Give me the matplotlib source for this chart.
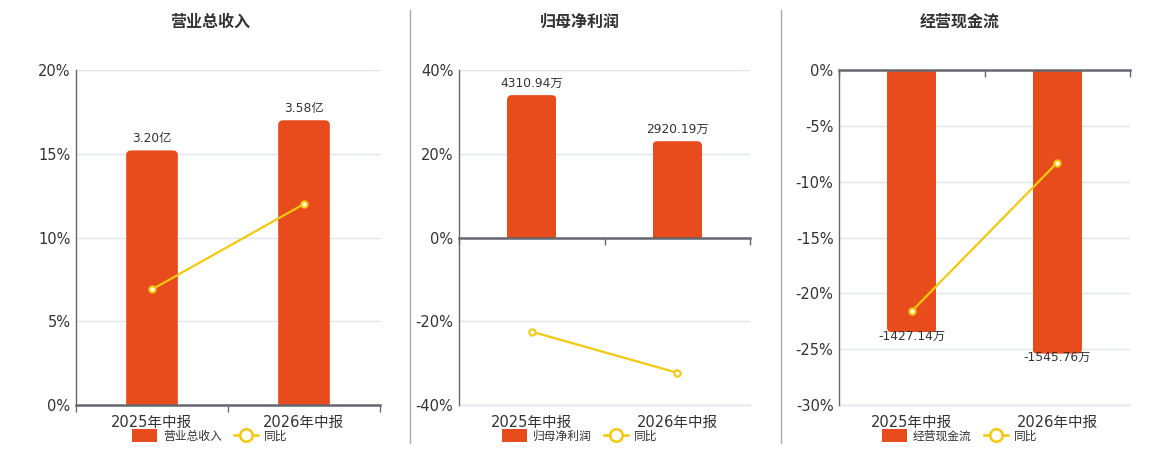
import numpy as np
import matplotlib
matplotlib.use('Agg')
import matplotlib.pyplot as plt
from matplotlib.patches import FancyBboxPatch, Patch
from matplotlib.lines import Line2D

plt.rcParams['font.family'] = ['DejaVu Sans', 'Noto Sans CJK SC']
plt.rcParams['axes.unicode_minus'] = False

# Data
periods = ['2025年中报', '2026年中报']

titles = ['营业总收入', '归母净利润', '经营现金流']

# bar heights on the percent axis (scaled values), with their labels
revenue_bar = [15.2, 17.0]
revenue_labels = ['3.20亿', '3.58亿']
revenue_yoy = [6.9, 12.0]

profit_bar = [34.0, 23.0]
profit_labels = ['4310.94万', '2920.19万']
profit_yoy = [-22.5, -32.3]

cash_bar = [-23.5, -25.4]
cash_labels = ['-1427.14万', '-1545.76万']
cash_yoy = [-21.6, -8.3]

ylims = [(0, 20), (-40, 40), (-30, 0)]
yticks = [[0, 5, 10, 15, 20], [-40, -20, 0, 20, 40], [-30, -25, -20, -15, -10, -5, 0]]

BAR = '#E84C1C'
LINE = '#F2C80F'
TXT = '#333333'
AXC = '#666670'
GRID = '#E0E4EE'

W, H = 1160, 450
fig = plt.figure(figsize=(W / 100, H / 100), dpi=100)

# axes boxes in pixels: left, right
boxes = [(76, 380), (459, 750), (839, 1130)]
top, bottom = 70, 405
centers = [210, 580, 960]

bars_all = [revenue_bar, profit_bar, cash_bar]
labels_all = [revenue_labels, profit_labels, cash_labels]
yoy_all = [revenue_yoy, profit_yoy, cash_yoy]

x = np.arange(len(periods))

for i in range(3):
    l, r = boxes[i]
    ax = fig.add_axes([l / W, (H - bottom) / H, (r - l) / W, (bottom - top) / H])
    ax.set_xlim(-0.5, 1.5)
    ax.set_ylim(*ylims[i])
    ax.set_yticks(yticks[i])
    ax.set_yticklabels([f'{v}%' for v in yticks[i]])
    ax.tick_params(axis='y', length=0, labelsize=10.5, labelcolor=TXT, pad=4)
    ax.set_xticks(x)
    ax.set_xticklabels(periods)
    ax.tick_params(axis='x', length=0, labelsize=10.5, labelcolor=TXT, pad=7)
    for s in ['top', 'right', 'bottom']:
        ax.spines[s].set_visible(False)
    ax.spines['left'].set_color(AXC)
    ax.spines['left'].set_linewidth(1)
    ax.grid(axis='y', color=GRID, lw=1)
    ax.set_axisbelow(True)
    ax.axhline(ylims[i][0], color=GRID, lw=1, clip_on=False, zorder=0.5)

    # zero line with category ticks
    sec = ax.secondary_xaxis(0, transform=ax.transData)
    sec.set_xticks([-0.5, 0.5, 1.5], labels=['', '', ''])
    sec.tick_params(direction='out', length=5, color=AXC, width=1)
    sec.spines['bottom'].set_visible(False)
    ax.axhline(0, color=AXC, lw=1.8, zorder=3, clip_on=False)

    # bars with rounded outer corners
    vals = bars_all[i]
    bars = ax.bar(x, vals, width=0.34, color=BAR, zorder=2)
    sx = 2.0 / (r - l)
    sy = (ylims[i][1] - ylims[i][0]) / (bottom - top)
    rad = 5
    for b in bars:
        bx, by, bw, bh = b.get_x(), b.get_y(), b.get_width(), b.get_height()
        ext = 3 * rad * sy
        if bh >= 0:
            y0, hh = by - ext, bh + ext
        else:
            y0, hh = by + bh, -bh + ext
        fb = FancyBboxPatch((bx, y0), bw, hh,
                            boxstyle=f'round,pad=0,rounding_size={rad * sx}',
                            mutation_aspect=sy / sx, fc=BAR, ec='none', zorder=2)
        ax.add_patch(fb)
        fb.set_clip_path(b)
        b.set_visible(False)

    # value labels
    for xi, v, t in zip(x, vals, labels_all[i]):
        if v >= 0:
            ax.annotate(t, (xi, v), xytext=(0, 4), textcoords='offset points',
                        ha='center', va='bottom', fontsize=8.8, color=TXT, zorder=5)
        else:
            ax.annotate(t, (xi, v), xytext=(0, -3), textcoords='offset points',
                        ha='center', va='center', fontsize=8.8, color=TXT, zorder=5)

    # yoy line
    ax.plot(x, yoy_all[i], color=LINE, lw=1.6, marker='o', ms=4.5,
            mfc='white', mec=LINE, mew=1.5, zorder=4)

    fig.text(centers[i] / W, (H - 22) / H, titles[i], ha='center', va='center',
             fontsize=11.5, fontweight='bold', color=TXT, family=['Noto Sans CJK SC'])

    handles = [Patch(fc=BAR, ec='none'),
               Line2D([0], [0], color=LINE, lw=1.8, marker='o', ms=9, mfc='white', mec=LINE, mew=1.8)]
    fig.legend(handles, [titles[i], '同比'], loc='center',
               bbox_to_anchor=(centers[i] / W, (H - 436) / H), ncol=2, frameon=False,
               fontsize=8.5, handlelength=2.1, handleheight=1.3, handletextpad=0.5,
               columnspacing=1.0, labelcolor=TXT)

# panel separators
for px in [410, 781]:
    fig.add_artist(Line2D([px / W, px / W], [(H - 443) / H, (H - 10) / H],
                          transform=fig.transFigure, color='#AAAAAA', lw=1))

fig.savefig('out.png', dpi=100, facecolor='white')
